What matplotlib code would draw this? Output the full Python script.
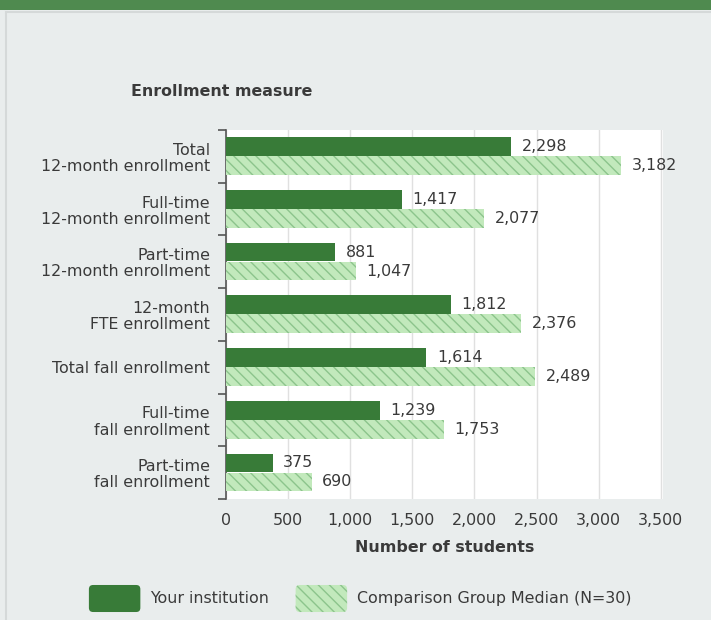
import matplotlib
matplotlib.use("Agg")
import matplotlib.pyplot as plt
import matplotlib.patches as mpatches
import matplotlib.lines as mlines
from matplotlib.legend_handler import HandlerPatch
import numpy as np

categories = ["Total\n12-month enrollment", "Full-time\n12-month enrollment",
              "Part-time\n12-month enrollment", "12-month\nFTE enrollment",
              "Total fall enrollment", "Full-time\nfall enrollment",
              "Part-time\nfall enrollment"]
institution = [2298, 1417, 881, 1812, 1614, 1239, 375]
comparison = [3182, 2077, 1047, 2376, 2489, 1753, 690]
xticks = [0, 500, 1000, 1500, 2000, 2500, 3000, 3500]
series_names = ["Your institution", "Comparison Group Median (N=30)"]

plt.rcParams['font.family'] = ['DejaVu Sans']
plt.rcParams['hatch.linewidth'] = 1.0

BG = "#e9eded"
DARK = "#387b38"
LIGHT = "#c2e9bc"
HATCH = "#8cc48c"
TXT = "#3a3a3a"
FS = 11.4

W, H = 711, 620
fig = plt.figure(figsize=(W/100, H/100), dpi=100, facecolor=BG)
# top band and faint panel border
fig.patches.append(mpatches.Rectangle((0, 1 - 10/H), 1, 10/H, transform=fig.transFigure,
                                      facecolor="#4f8a4f", edgecolor="none", zorder=0))
fig.lines.append(mlines.Line2D([6/W, 1], [1 - 12/H, 1 - 12/H], transform=fig.transFigure,
                               color="#d5d9d9", linewidth=1.5))
fig.lines.append(mlines.Line2D([6/W, 6/W], [0, 1 - 12/H], transform=fig.transFigure,
                               color="#d5d9d9", linewidth=1.5))

ax = fig.add_axes([226/W, 1 - 499/H, 437/W, 369/H])
ax.set_facecolor("white")

y = np.arange(len(categories))
h = 0.355
ax.barh(y - 0.185, institution, height=h, color=DARK, edgecolor="none", zorder=3)
ax.barh(y + 0.175, comparison, height=h, color=LIGHT, edgecolor=HATCH, hatch="\\\\\\",
        linewidth=0, zorder=3)

for yi, v in zip(y, institution):
    ax.annotate(f"{v:,}", (v, yi - 0.185), xytext=(7.5, 0), textcoords="offset points",
                va="center", ha="left", fontsize=FS, color=TXT)
for yi, v in zip(y, comparison):
    ax.annotate(f"{v:,}", (v, yi + 0.175), xytext=(7.5, 0), textcoords="offset points",
                va="center", ha="left", fontsize=FS, color=TXT)

ax.set_ylim(len(categories) - 0.5, -0.5)
ax.set_xlim(0, 3518)
ax.set_xticks(xticks)
ax.set_xticklabels([f"{t:,}" for t in xticks], fontsize=FS, color=TXT)
ax.set_yticks(y)
ax.set_yticklabels(categories, fontsize=FS, color=TXT, linespacing=1.1)
ax.tick_params(axis="y", length=0, pad=11.5)
ax.tick_params(axis="x", length=0, pad=10)
# boundary ticks on y axis
ax.set_yticks(np.arange(-0.5, len(categories), 1), minor=True)
ax.tick_params(axis="y", which="minor", length=6, color="#555555", width=1.2)
ax.grid(axis="x", color="#e0e0e0", linewidth=1, zorder=0)
for s in ["top", "right", "bottom"]:
    ax.spines[s].set_visible(False)
ax.spines["left"].set_color("#555555")
ax.spines["left"].set_linewidth(1.2)

ax.set_xlabel("Number of students", fontsize=FS, fontweight="bold", color=TXT, labelpad=9)
fig.text(131/W, 1 - 91/H, "Enrollment measure", fontsize=FS, fontweight="bold",
         color=TXT, va="center", ha="left")


def make_round(legend, orig_handle, xdescent, ydescent, width, height, fontsize):
    return mpatches.FancyBboxPatch((-xdescent, -ydescent), width, height,
                                   boxstyle="round,pad=0,rounding_size=3")


leg = fig.legend([mpatches.Patch(facecolor=DARK, edgecolor="none"),
                  mpatches.Patch(facecolor=LIGHT, edgecolor=HATCH, hatch="\\\\\\", linewidth=0)],
                 series_names,
                 loc="center", bbox_to_anchor=(360/W, 1 - 598.5/H), ncol=2, frameon=False,
                 fontsize=FS, handlelength=3.25, handleheight=2.25, columnspacing=1.7,
                 handletextpad=0.6, labelcolor=TXT, borderpad=0,
                 handler_map={mpatches.Patch: HandlerPatch(patch_func=make_round)})

fig.savefig("out.png", dpi=100, facecolor=BG)
